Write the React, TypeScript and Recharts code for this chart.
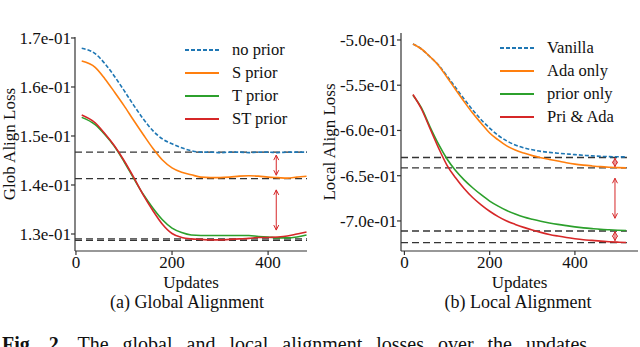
import { LineChart, Line, XAxis, YAxis, ReferenceLine, Legend } from 'recharts'

const globUpdates = [12, 40, 60, 80, 100, 120, 140, 160, 180, 200, 220, 240, 260, 280, 300, 320, 340, 360, 380, 400, 420, 440, 460, 480]
const noPrior = [0.1679, 0.1668, 0.1648, 0.1622, 0.1593, 0.1563, 0.1535, 0.1511, 0.1494, 0.1484, 0.1476, 0.147, 0.1467, 0.1467, 0.1466, 0.1467, 0.1467, 0.1466, 0.1467, 0.1467, 0.1466, 0.1467, 0.1467, 0.1467]
const sPrior = [0.1653, 0.164, 0.1617, 0.159, 0.1562, 0.1532, 0.1503, 0.1475, 0.1451, 0.1435, 0.1426, 0.1421, 0.1416, 0.1415, 0.1415, 0.1416, 0.1418, 0.1419, 0.1418, 0.1416, 0.1415, 0.1414, 0.1416, 0.1418]
const tPrior = [0.1538, 0.1523, 0.1503, 0.1479, 0.1448, 0.1414, 0.1381, 0.1353, 0.1329, 0.1312, 0.1303, 0.1298, 0.1297, 0.1297, 0.1297, 0.1297, 0.1297, 0.1297, 0.1295, 0.1294, 0.1292, 0.1292, 0.1294, 0.1298]
const stPrior = [0.1543, 0.1527, 0.1505, 0.148, 0.145, 0.1416, 0.138, 0.1348, 0.132, 0.1301, 0.1293, 0.129, 0.1289, 0.1288, 0.1288, 0.1289, 0.129, 0.1291, 0.1293, 0.1293, 0.1294, 0.1296, 0.13, 0.1304]
const globTicks = [0.13, 0.14, 0.15, 0.16, 0.17]
const globLevels = [0.1467, 0.1413, 0.129, 0.1287]
const globGaps = [[0.1461, 0.142], [0.139, 0.1308]]

const localUpdates = [20, 40, 60, 80, 100, 120, 140, 160, 180, 200, 220, 240, 260, 280, 300, 320, 340, 360, 380, 400, 420, 440, 460, 480, 500, 520]
const vanilla = [-0.5045, -0.51, -0.5185, -0.5277, -0.5398, -0.5526, -0.5651, -0.5772, -0.5881, -0.5974, -0.6054, -0.6115, -0.616, -0.6191, -0.6214, -0.6231, -0.6242, -0.6251, -0.6259, -0.6267, -0.6274, -0.6281, -0.6286, -0.6289, -0.6291, -0.6292]
const adaOnly = [-0.5045, -0.51, -0.5185, -0.5281, -0.5412, -0.5548, -0.5681, -0.5808, -0.592, -0.6028, -0.6105, -0.6171, -0.6217, -0.625, -0.6278, -0.6301, -0.632, -0.6338, -0.6357, -0.6372, -0.6383, -0.6392, -0.64, -0.6406, -0.6411, -0.6413]
const priorOnly = [-0.561, -0.5751, -0.596, -0.6152, -0.6315, -0.6443, -0.6546, -0.6633, -0.671, -0.678, -0.6836, -0.6885, -0.6924, -0.6957, -0.6982, -0.7004, -0.7022, -0.7038, -0.7052, -0.7065, -0.7076, -0.7085, -0.7093, -0.7098, -0.7102, -0.7105]
const priAda = [-0.5603, -0.5763, -0.5978, -0.6193, -0.6385, -0.6523, -0.6641, -0.6741, -0.6822, -0.6893, -0.6952, -0.7001, -0.7038, -0.7071, -0.71, -0.7126, -0.7149, -0.7167, -0.7183, -0.7196, -0.7207, -0.7215, -0.7223, -0.7229, -0.7234, -0.7238]
const localTicks = [-0.7, -0.65, -0.6, -0.55, -0.5]
const localLevels = [-0.6299, -0.6413, -0.7111, -0.724]
const localGaps = [[-0.6307, -0.64], [-0.6528, -0.697], [-0.7118, -0.7218]]

const xTicks = [0, 200, 400]

const BLUE = '#1f77b4'
const ORANGE = '#ff7f0e'
const GREEN = '#2ca02c'
const RED = '#d62728'
const AXIS = '#333'
const FONT = "'Liberation Serif', 'Times New Roman', 'DejaVu Serif', serif"

type Series = { key: string; name: string; color: string; dash?: string }

const globSeries: Series[] = [
  { key: 'a', name: 'no prior', color: BLUE, dash: '4 2' },
  { key: 'b', name: 'S prior', color: ORANGE },
  { key: 'c', name: 'T prior', color: GREEN },
  { key: 'd', name: 'ST prior', color: RED },
]
const localSeries: Series[] = [
  { key: 'a', name: 'Vanilla', color: BLUE, dash: '4 2' },
  { key: 'b', name: 'Ada only', color: ORANGE },
  { key: 'c', name: 'prior only', color: GREEN },
  { key: 'd', name: 'Pri & Ada', color: RED },
]

const globData = globUpdates.map((u, i) => ({ u, a: noPrior[i], b: sPrior[i], c: tPrior[i], d: stPrior[i] }))
const localData = localUpdates.map((u, i) => ({ u, a: vanilla[i], b: adaOnly[i], c: priorOnly[i], d: priAda[i] }))

function sci(v: number): string {
  const [m, e] = v.toExponential(1).split('e')
  const n = parseInt(e, 10)
  return `${m}e${n < 0 ? '-' : '+'}${String(Math.abs(n)).padStart(2, '0')}`
}

function GapArrow(props: any) {
  const { x1, y1, y2 } = props
  const top = Math.min(y1, y2)
  const bot = Math.max(y1, y2)
  return (
    <g stroke={RED} fill="none" strokeWidth={1}>
      <line x1={x1} y1={top} x2={x1} y2={bot} />
      <polyline points={`${x1 - 2.5},${top + 5} ${x1},${top} ${x1 + 2.5},${top + 5}`} />
      <polyline points={`${x1 - 2.5},${bot - 5} ${x1},${bot} ${x1 + 2.5},${bot - 5}`} />
    </g>
  )
}

function legendContent(series: Series[]) {
  return () => (
    <div style={{ fontFamily: FONT, fontSize: 16.5, color: '#111' }}>
      {series.map((s) => (
        <div key={s.key} style={{ display: 'flex', alignItems: 'center', height: 23 }}>
          <svg width={34} height={4} style={{ marginRight: 13 }}>
            <line x1={0} y1={2} x2={34} y2={2} stroke={s.color} strokeWidth={1.8} strokeDasharray={s.dash} />
          </svg>
          <span>{s.name}</span>
        </div>
      ))}
    </div>
  )
}

interface PanelProps {
  data: Array<Record<string, number>>
  series: Series[]
  left: number
  top: number
  rightPad: number
  yWidth: number
  xDomain: [number, number]
  yDomain: [number, number]
  yTicks: number[]
  yLabel: string
  levels: number[]
  levelEnd: number
  gaps: number[][]
  gapX: number
  legendPos: { left: number; top: number }
}

function Panel(p: PanelProps) {
  const tick = { fill: '#111', fontSize: 17, style: { fontFamily: FONT } }
  return (
    <div style={{ position: 'absolute', left: p.left, top: 0, fontFamily: FONT }}>
      <LineChart width={320} height={300} data={p.data} margin={{ top: p.top, right: p.rightPad, bottom: 0, left: 0 }} style={{ fontFamily: FONT }}>
        <XAxis
          dataKey="u"
          type="number"
          domain={p.xDomain}
          ticks={xTicks}
          allowDataOverflow
          height={49}
          tick={tick}
          tickSize={4}
          tickMargin={1}
          stroke={AXIS}
          strokeWidth={1.2}
          label={{ value: 'Updates', position: 'insideBottom', offset: 12, fill: '#111', fontSize: 17, style: { fontFamily: FONT } }}
        />
        <YAxis
          type="number"
          domain={p.yDomain}
          ticks={p.yTicks}
          allowDataOverflow
          width={p.yWidth}
          tick={tick}
          tickSize={4}
          tickMargin={0}
          tickFormatter={sci}
          stroke={AXIS}
          strokeWidth={1.2}
          label={{ value: p.yLabel, angle: -90, position: 'insideLeft', offset: 9, fill: '#111', fontSize: 17, style: { textAnchor: 'middle', fontFamily: FONT } }}
        />
        {p.levels.map((v) => (
          <ReferenceLine
            key={v}
            segment={[{ x: p.xDomain[0], y: v }, { x: p.levelEnd, y: v }]}
            stroke="#111"
            strokeOpacity={0.85}
            strokeWidth={1.3}
            strokeDasharray="7 4"
          />
        ))}
        {p.series.map((s) => (
          <Line
            key={s.key}
            dataKey={s.key}
            name={s.name}
            type="monotone"
            stroke={s.color}
            strokeWidth={1.6}
            strokeDasharray={s.dash}
            dot={false}
            isAnimationActive={false}
          />
        ))}
        {p.gaps.map((g, i) => (
          <ReferenceLine key={i} segment={[{ x: p.gapX, y: g[0] }, { x: p.gapX, y: g[1] }]} shape={GapArrow} />
        ))}
        <Legend
          layout="horizontal"
          verticalAlign="middle"
          align="center"
          content={legendContent(p.series)}
          wrapperStyle={{ left: p.legendPos.left, top: p.legendPos.top, width: 'auto' }}
        />
      </LineChart>
    </div>
  )
}

export default function App() {
  return (
    <div style={{ position: 'absolute', left: 0, top: 0, width: 640, height: 347, overflow: 'hidden', background: '#fff', fontFamily: FONT }}>
      <Panel
        data={globData}
        series={globSeries}
        left={0}
        top={37}
        rightPad={13}
        yWidth={75}
        xDomain={[-2, 481]}
        yDomain={[0.12653, 0.1702]}
        yTicks={globTicks}
        yLabel="Glob Align Loss"
        levels={globLevels}
        levelEnd={481}
        gaps={globGaps}
        gapX={417}
        legendPos={{ left: 185, top: 38 }}
      />
      <Panel
        data={localData}
        series={localSeries}
        left={320}
        top={33}
        rightPad={2}
        yWidth={81}
        xDomain={[-8, 548]}
        yDomain={[-0.7332, -0.4923]}
        yTicks={localTicks}
        yLabel="Local Align Loss"
        levels={localLevels}
        levelEnd={522}
        gaps={localGaps}
        gapX={494}
        legendPos={{ left: 180, top: 36 }}
      />
      <svg width={640} height={347} style={{ position: 'absolute', left: 0, top: 0, pointerEvents: 'none', fontFamily: FONT }}>
        <g fill="#111">
          <text x={187} y={308} fontSize={18} textAnchor="middle">(a) Global Alignment</text>
          <text x={518} y={308} fontSize={18} textAnchor="middle">(b) Local Alignment</text>
          <text x={2} y={351} fontSize={20} wordSpacing={9}>
            <tspan fontWeight="bold">Fig. 2.</tspan> The global and local alignment losses over the updates.
          </text>
        </g>
      </svg>
    </div>
  )
}
